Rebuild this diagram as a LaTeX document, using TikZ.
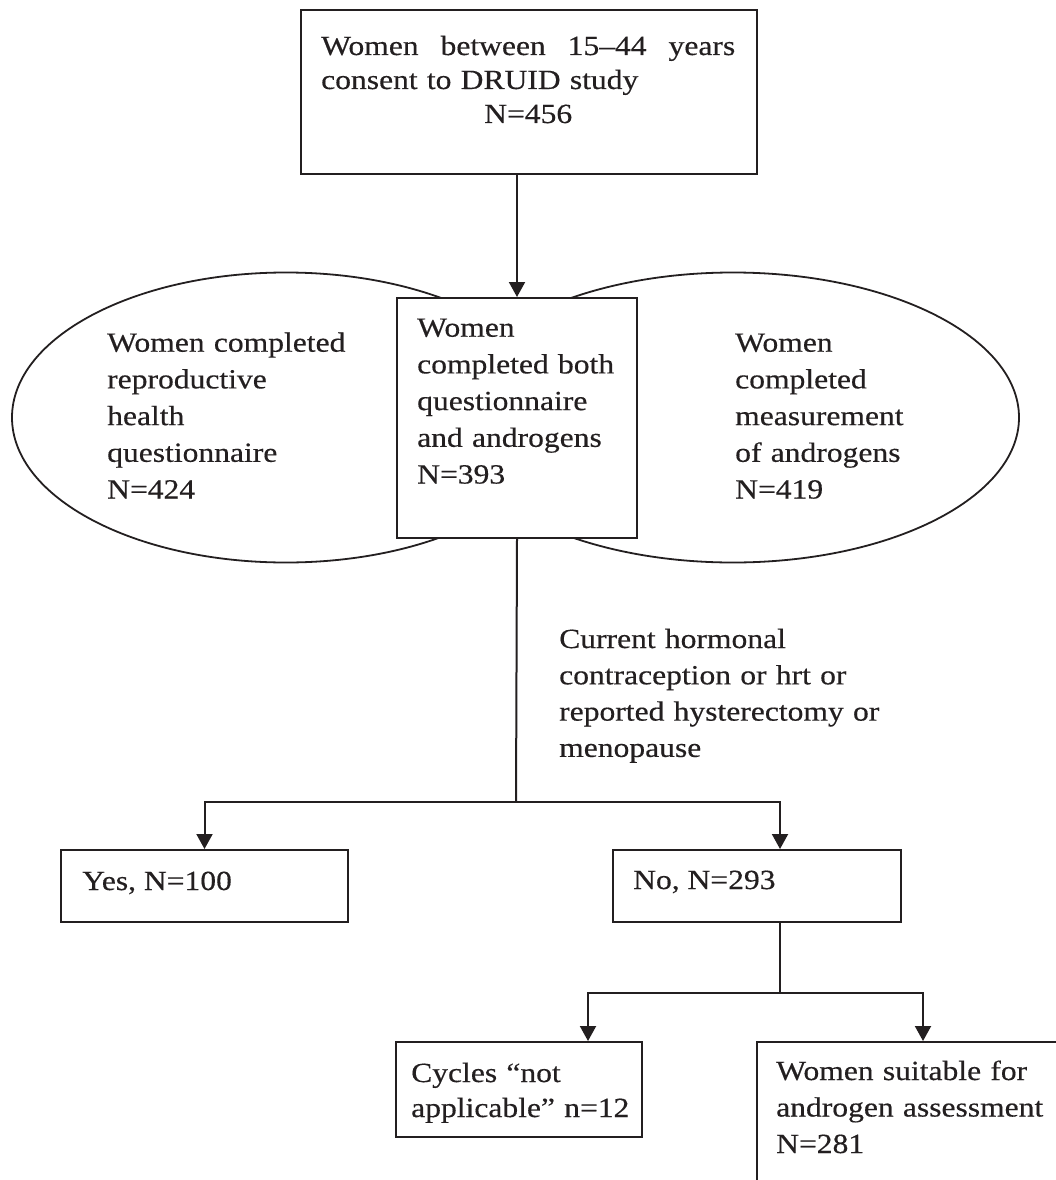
\documentclass[tikz,border=0pt]{standalone}
\usepackage{fontspec}
\setmainfont[FakeStretch=1.14,FakeBold=0.4]{Liberation Serif}
\usetikzlibrary{arrows.meta,shapes.geometric}
\definecolor{ink}{RGB}{35,31,32}
\begin{document}
\begin{tikzpicture}[x=1pt,y=-1pt,
  box/.style={draw=ink, line width=2pt, fill=white, inner sep=0pt, anchor=north west},
  oval/.style={draw=ink, line width=1.8pt, ellipse, inner sep=0pt},
  txt/.style={text=ink, inner sep=0pt, anchor=base west, align=left,
    font=\fontsize{27.7}{36.7}\selectfont},
  link/.style={draw=ink, line width=2pt},
  arr/.style={link, -{Triangle[width=16pt,length=15pt]}}]
\useasboundingbox (0,0) rectangle (1056,1180);
\fill[white] (0,0) rectangle (1056,1180);
\clip (0,0) rectangle (1056,1180);

% overlapping ovals behind the central box
\node[oval, minimum width=548pt, minimum height=290pt] (quest) at (286,417.5) {};
\node[oval, minimum width=572pt, minimum height=290pt] (andro) at (733,417.5) {};

% boxes
\node[box, minimum width=456pt, minimum height=164pt] (consent) at (300,9) {};
\node[box, minimum width=240pt, minimum height=240pt] (both) at (396,297) {};
\node[box, minimum width=287pt, minimum height=72pt] (yes) at (60,849) {};
\node[box, minimum width=288pt, minimum height=72pt] (no) at (612,849) {};
\node[box, minimum width=246pt, minimum height=95pt] (cycles) at (395,1041) {};
\node[box, minimum width=420pt, minimum height=220pt] (suitable) at (756,1041) {};

% texts
\node[txt, text width=414pt, font=\fontsize{27.7}{34}\selectfont] (consentText) at (321,55)
  {\makebox[\linewidth][s]{Women\hfill between\hfill 15–44\hfill years}\\consent to DRUID study\\\makebox[\linewidth]{N=456}};
\node[txt, text width=230pt] (bothText) at (417,336.7)
  {Women\\completed both\\questionnaire\\and androgens\\N=393};
\node[txt, text width=260pt] (questText) at (107,351.7)
  {Women completed\\reproductive\\health\\questionnaire\\N=424};
\node[txt, text width=200pt] (androText) at (735,351.7)
  {Women\\completed\\measurement\\of androgens\\N=419};
\node[txt, text width=360pt, font=\fontsize{27.7}{36.3}\selectfont] (criteria) at (559,648)
  {Current hormonal\\contraception or hrt or\\reported hysterectomy or\\menopause};
\node[txt] (yesText) at (82,890) {Yes, N=100};
\node[txt] (noText) at (633,889) {No, N=293};
\node[txt, text width=240pt, font=\fontsize{27.7}{35}\selectfont] (cyclesText) at (411,1082)
  {Cycles “not\\applicable” n=12};
\node[txt, text width=300pt, font=\fontsize{27.7}{36.5}\selectfont] (suitableText) at (776,1080)
  {Women suitable for\\androgen assessment\\N=281};

% junctions and arrow targets
\coordinate (split1) at (516,802);
\coordinate (noIn) at (780,849);
\coordinate (noOut) at (780,921);
\coordinate (split2) at (780,993);
\coordinate (cyclesIn) at (588,1041);
\coordinate (suitableIn) at (923,1041);

% connectors
\draw[arr] (both.north |- consent.south) -- (both.north);
\draw[link] (both.south) -- (split1);
\draw[arr] (split1) -| (yes.north);
\draw[arr] (split1) -| (noIn);
\draw[link] (noOut) -- (split2);
\draw[arr] (split2) -| (cyclesIn);
\draw[arr] (split2) -| (suitableIn);
\end{tikzpicture}
\end{document}
